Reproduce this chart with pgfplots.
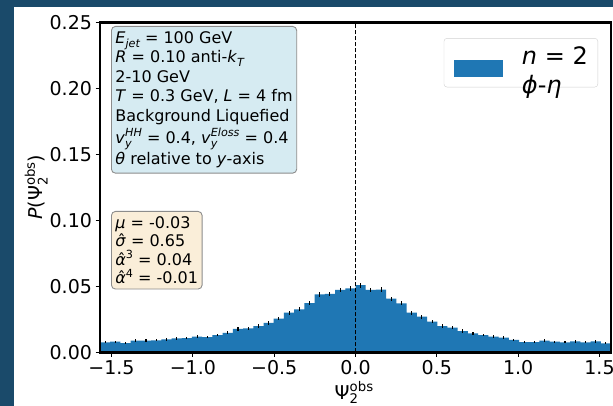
\documentclass[border=0pt]{standalone}
\usepackage{fontspec}
\setmainfont{DejaVu Sans}
\usepackage{pgfplots}
\pgfplotsset{compat=1.18}
\usepackage{pgfplotstable}
\definecolor{navy}{HTML}{1A4A6A}
\definecolor{c1}{HTML}{1F77B4}
\definecolor{boxblue}{HTML}{D6EBF2}
\definecolor{boxwheat}{HTML}{FAEED9}
\newcommand\Sub[2][11.2]{\raisebox{-0.25em}{\fontsize{#1}{#1}\selectfont #2}}
\newcommand\Sup[2][11.2]{\raisebox{0.42em}{\fontsize{#1}{#1}\selectfont #2}}
\newcommand\SubSup[3][11.2]{\rlap{\Sub[#1]{#2}}\Sup[#1]{#3}}
\newcommand\hatg[1]{{\ooalign{#1\cr\hidewidth\kern0.12em ˆ\hidewidth\cr}}}

\pgfplotstableread{
x c y e
-1.5708 -1.5394 0.0076 0.00085
-1.5080 -1.4766 0.0080 0.00087
-1.4451 -1.4137 0.0070 0.00082
-1.3823 -1.3509 0.0088 0.00090
-1.3195 -1.2881 0.0088 0.00090
-1.2566 -1.2252 0.0091 0.00092
-1.1938 -1.1624 0.0098 0.00095
-1.1310 -1.0996 0.0106 0.00098
-1.0681 -1.0367 0.0108 0.00099
-1.0053 -0.9739 0.0118 0.00103
-0.9425 -0.9111 0.0115 0.00102
-0.8796 -0.8482 0.0131 0.00108
-0.8168 -0.7854 0.0148 0.00114
-0.7540 -0.7226 0.0177 0.00122
-0.6912 -0.6597 0.0182 0.00124
-0.6283 -0.5969 0.0199 0.00128
-0.5655 -0.5341 0.0223 0.00134
-0.5027 -0.4712 0.0256 0.00142
-0.4398 -0.4084 0.0300 0.00150
-0.3770 -0.3456 0.0326 0.00155
-0.3142 -0.2827 0.0373 0.00163
-0.2513 -0.2199 0.0439 0.00172
-0.1885 -0.1571 0.0442 0.00173
-0.1257 -0.0942 0.0472 0.00178
-0.0628 -0.0314 0.0485 0.00180
0.0000 0.0314 0.0508 0.00183
0.0628 0.0942 0.0472 0.00178
0.1257 0.1571 0.0475 0.00178
0.1885 0.2199 0.0406 0.00167
0.2513 0.2827 0.0371 0.00162
0.3142 0.3456 0.0300 0.00150
0.3770 0.4084 0.0270 0.00145
0.4398 0.4712 0.0232 0.00136
0.5027 0.5341 0.0199 0.00128
0.5655 0.5969 0.0186 0.00125
0.6283 0.6597 0.0161 0.00118
0.6912 0.7226 0.0144 0.00112
0.7540 0.7854 0.0131 0.00108
0.8168 0.8482 0.0118 0.00103
0.8796 0.9111 0.0111 0.00100
0.9425 0.9739 0.0095 0.00094
1.0053 1.0367 0.0078 0.00086
1.0681 1.0996 0.0078 0.00086
1.1310 1.1624 0.0088 0.00090
1.1938 1.2252 0.0080 0.00087
1.2566 1.2881 0.0076 0.00085
1.3195 1.3509 0.0083 0.00088
1.3823 1.4137 0.0076 0.00085
1.4451 1.4766 0.0083 0.00088
1.5080 1.5394 0.0068 0.00081
1.5708 1.6022 0.0068 0.00000
}\hist

\begin{document}
\begin{tikzpicture}
\path[use as bounding box] (0,0) rectangle (613pt,406pt);
\fill[navy] (0,0) rectangle (613pt,406pt);
\fill[white] (13.5pt,0) rectangle (613pt,398.5pt);
\begin{axis}[
  at={(100pt,53.7pt)}, anchor=south west,
  scale only axis, width=511pt, height=330pt,
  xmin=-1.5708, xmax=1.5708, ymin=0, ymax=0.25,
  axis on top,
  axis line style={line width=2.8pt, black},
  xtick={-1.5,-1,-0.5,0,0.5,1,1.5},
  xticklabels={−1.5,−1.0,−0.5,0.0,0.5,1.0,1.5},
  ytick={0,0.05,0.1,0.15,0.2,0.25},
  yticklabels={0.00,0.05,0.10,0.15,0.20,0.25},
  xtick pos=bottom, ytick pos=left,
  tick align=outside, major tick length=4.5pt,
  tick style={line width=1pt, black},
  ticklabel style={font=\fontsize{19}{22}\selectfont},
  label style={font=\fontsize{19}{22}\selectfont},
  xlabel={Ψ\SubSup[13.3]{2}{obs}},
  ylabel={\textit{P}(Ψ\SubSup[13.3]{2}{obs})},
  xlabel style={at={(axis description cs:0.497,-0.122)}, anchor=center},
  ylabel style={at={(axis description cs:-0.125,0.5)}, anchor=center},
  legend style={at={(0.9746,0.952)}, anchor=north east, draw=black!18,
    rounded corners=3pt, fill=white, font=\fontsize{24}{29}\selectfont,
    inner xsep=10pt, inner ysep=6pt, nodes={inner sep=0pt}},
  legend cell align=left,
]
\addplot[ybar interval, fill=c1, draw=none,
  legend image code/.code={\fill[c1, sharp corners] (0pt,-14.5pt) rectangle (49pt,2.5pt);
    \path (68pt,-6pt);}]
  table[x=x, y=y] {\hist};
\addlegendentry{\begin{tabular}{@{}l@{}}\textit{n} = 2\\\textit{ϕ}-\textit{η}\end{tabular}}
\addplot[draw=none, mark=none, forget plot, skip coords between index={50}{51},
  error bars/.cd, y dir=both, y explicit, error mark=none,
  error bar style={draw=black, solid, line width=1.1pt}]
  table[x=c, y=y, y error=e] {\hist};
\addplot[black, line width=1.3pt, dash pattern=on 4pt off 2pt, forget plot]
  coordinates {(0,0) (0,0.25)};
\end{axis}
\node[anchor=north west, draw=black!45, line width=0.9pt, fill=boxblue,
  rounded corners=4pt, inner xsep=4pt, inner ysep=5pt, align=left,
  font=\fontsize{16}{19.5}\selectfont] at (111pt,380pt)
{\textit{E}\Sub{\itshape jet} = 100 GeV\\
\textit{R} = 0.10 anti-\textit{k}\Sub{\itshape T}\\
2-10 GeV\\
\textit{T} = 0.3 GeV, \textit{L} = 4 fm\\
Background Liquefied\\[2.5pt]
\textit{v}\SubSup{\itshape y}{\itshape HH} = 0.4, \textit{v}\SubSup{\itshape y}{\itshape Eloss} = 0.4\\[2pt]
\textit{θ} relative to \textit{y}-axis};
\node[anchor=north west, draw=black!45, line width=0.9pt, fill=boxwheat,
  rounded corners=4pt, inner xsep=4pt, inner ysep=5pt, align=left,
  font=\fontsize{16}{18.5}\selectfont] at (111pt,195pt)
{\textit{μ} = -0.03\\
\hatg{\textit{σ}} = 0.65\\
\hatg{\textit{α}}\Sup{3} = 0.04\\
\hatg{\textit{α}}\Sup{4} = -0.01};
\end{tikzpicture}
\end{document}
